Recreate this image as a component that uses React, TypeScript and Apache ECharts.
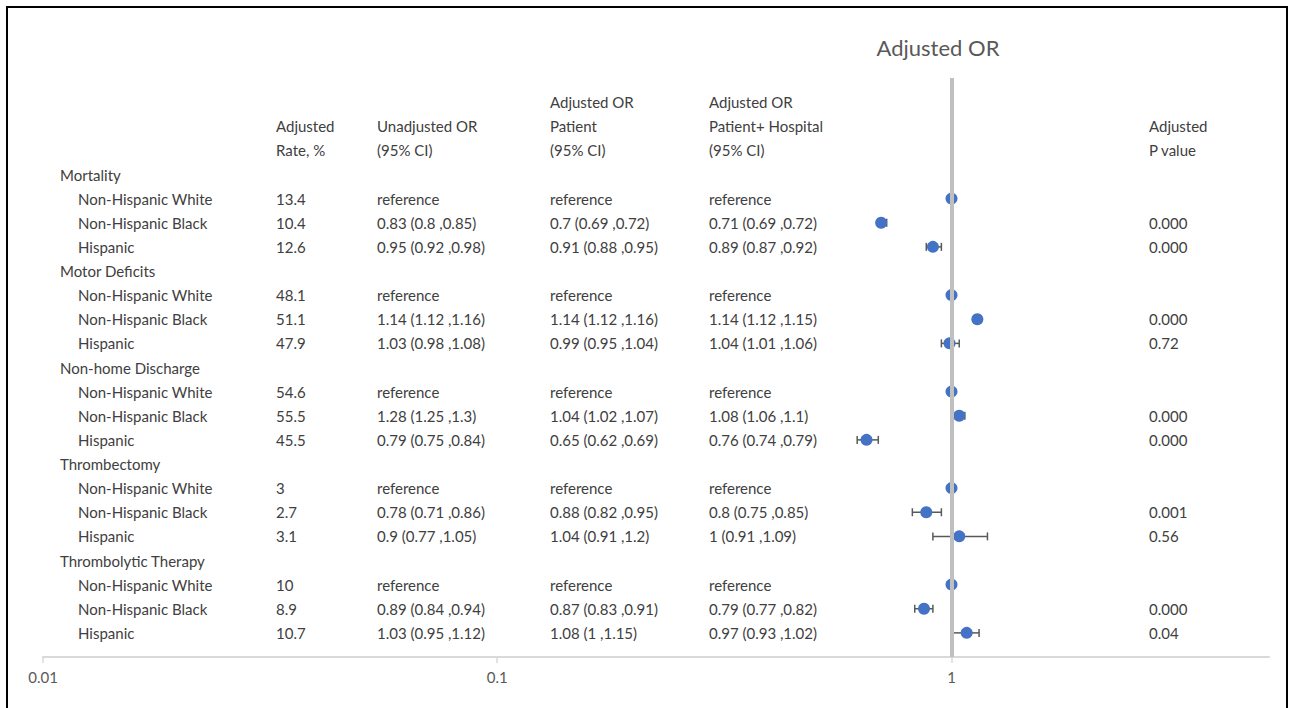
import React, { useEffect, useRef } from "react";
import * as echarts from "echarts";

const groups = ["Mortality", "Motor Deficits", "Non-home Discharge", "Thrombectomy", "Thrombolytic Therapy"];
const subgroups = ["Non-Hispanic White", "Non-Hispanic Black", "Hispanic"];
const adjustedRates = [
  ["13.4", "10.4", "12.6"],
  ["48.1", "51.1", "47.9"],
  ["54.6", "55.5", "45.5"],
  ["3", "2.7", "3.1"],
  ["10", "8.9", "10.7"],
];
// [OR, lower, upper] for Non-Hispanic Black and Hispanic (White = reference)
const unadjustedOR = [
  [[0.83, 0.8, 0.85], [0.95, 0.92, 0.98]],
  [[1.14, 1.12, 1.16], [1.03, 0.98, 1.08]],
  [[1.28, 1.25, 1.3], [0.79, 0.75, 0.84]],
  [[0.78, 0.71, 0.86], [0.9, 0.77, 1.05]],
  [[0.89, 0.84, 0.94], [1.03, 0.95, 1.12]],
];
const patientOR = [
  [[0.7, 0.69, 0.72], [0.91, 0.88, 0.95]],
  [[1.14, 1.12, 1.16], [0.99, 0.95, 1.04]],
  [[1.04, 1.02, 1.07], [0.65, 0.62, 0.69]],
  [[0.88, 0.82, 0.95], [1.04, 0.91, 1.2]],
  [[0.87, 0.83, 0.91], [1.08, 1, 1.15]],
];
const hospitalOR = [
  [[0.71, 0.69, 0.72], [0.89, 0.87, 0.92]],
  [[1.14, 1.12, 1.15], [1.04, 1.01, 1.06]],
  [[1.08, 1.06, 1.1], [0.76, 0.74, 0.79]],
  [[0.8, 0.75, 0.85], [1, 0.91, 1.09]],
  [[0.79, 0.77, 0.82], [0.97, 0.93, 1.02]],
];
const pValues = [
  ["0.000", "0.000"],
  ["0.000", "0.72"],
  ["0.000", "0.000"],
  ["0.001", "0.56"],
  ["0.000", "0.04"],
];
const xTickValues = [0.01, 0.1, 1];

const fmt = (t: number[]) => `${t[0]} (${t[1]} ,${t[2]})`;

export default function App() {
  const ref = useRef<HTMLDivElement>(null);
  useEffect(() => {
    const chart = echarts.init(ref.current!, null, { renderer: "svg" });
    const gridTop = 78;
    const gridBottom = 51;
    const gridLeft = 43;
    const gridRight = 24;
    const H = 708 - gridTop - gridBottom;
    const yMin = -4;
    const yMax = 20;
    const rowY = (r: number) => gridTop + ((r - yMin) / (yMax - yMin)) * H;

    const font = "Lato, 'Liberation Sans', sans-serif";
    const textColor = "#404040";
    const fs = 15;

    const points: any[] = [];
    const bars: any[] = [];
    const texts: any[] = [];
    const addText = (x: number, r: number, s: string) =>
      texts.push({
        type: "text",
        x,
        y: rowY(r),
        silent: true,
        style: { text: s, fill: textColor, font: `${fs}px ${font}`, verticalAlign: "middle", align: "left" },
      });

    groups.forEach((g, gi) => {
      const base = gi * 4;
      addText(60, base, g);
      subgroups.forEach((s, si) => {
        const r = base + 1 + si;
        addText(78, r, s);
        addText(276, r, adjustedRates[gi][si]);
        if (si === 0) {
          addText(377, r, "reference");
          addText(550, r, "reference");
          addText(709, r, "reference");
          points.push([1, r]);
        } else {
          addText(377, r, fmt(unadjustedOR[gi][si - 1]));
          addText(550, r, fmt(patientOR[gi][si - 1]));
          addText(709, r, fmt(hospitalOR[gi][si - 1]));
          addText(1149, r, pValues[gi][si - 1]);
          const p = patientOR[gi][si - 1];
          points.push([p[0], r]);
          bars.push([p[1], p[2], r]);
        }
      });
    });

    // headers
    addText(276, -2, "Adjusted");
    addText(276, -1, "Rate, %");
    addText(377, -2, "Unadjusted OR");
    addText(377, -1, "(95% CI)");
    addText(550, -3, "Adjusted OR");
    addText(550, -2, "Patient");
    addText(550, -1, "(95% CI)");
    addText(709, -3, "Adjusted OR");
    addText(709, -2, "Patient+ Hospital");
    addText(709, -1, "(95% CI)");
    addText(1149, -2, "Adjusted");
    addText(1149, -1, "P value");

    texts.push({
      type: "text",
      x: 938,
      y: 47,
      silent: true,
      style: { text: "Adjusted OR", fill: "#595959", font: `22px ${font}`, verticalAlign: "middle", align: "center" },
    });
    texts.push({
      type: "rect",
      shape: { x: 7, y: 7, width: 1280, height: 720 },
      style: { fill: "none", stroke: "#000", lineWidth: 2 },
      silent: true,
    });

    const option: any = {
      animation: false,
      backgroundColor: "#fff",
      grid: { left: gridLeft, right: gridRight, top: gridTop, bottom: gridBottom, containLabel: false },
      xAxis: {
        type: "log",
        logBase: 10,
        min: 0.01,
        max: 5,
        axisLine: { show: true, onZero: false, lineStyle: { color: "#d9d9d9", width: 2 } },
        axisTick: { show: true, length: 6, lineStyle: { color: "#d9d9d9", width: 1.5 }, customValues: xTickValues },
        axisLabel: {
          customValues: xTickValues,
          color: "#595959",
          fontSize: 15,
          fontFamily: font,
          margin: 12,
          hideOverlap: false,
          formatter: (v: number) => String(+(+v).toPrecision(6)),
        },
        splitLine: { show: false },
        minorTick: { show: false },
        minorSplitLine: { show: false },
      },
      yAxis: {
        type: "value",
        inverse: true,
        min: yMin,
        max: yMax,
        show: false,
        axisLine: { onZero: false },
        splitLine: { show: false },
      },
      series: [
        {
          type: "scatter",
          data: [],
          z: 1,
          markLine: {
            silent: true,
            symbol: "none",
            label: { show: false },
            lineStyle: { color: "#bfbfbf", width: 4, type: "solid" },
            data: [{ xAxis: 1 }],
          },
        },
        {
          type: "custom",
          z: 2,
          data: bars,
          encode: { x: [0, 1], y: 2 },
          renderItem: (params: any, api: any) => {
            const lo = api.coord([api.value(0), api.value(2)]);
            const hi = api.coord([api.value(1), api.value(2)]);
            const h = 4;
            const st = { stroke: "#595959", lineWidth: 1.5 };
            return {
              type: "group",
              children: [
                { type: "line", shape: { x1: lo[0], y1: lo[1], x2: hi[0], y2: hi[1] }, style: st },
                { type: "line", shape: { x1: lo[0], y1: lo[1] - h, x2: lo[0], y2: lo[1] + h }, style: st },
                { type: "line", shape: { x1: hi[0], y1: hi[1] - h, x2: hi[0], y2: hi[1] + h }, style: st },
              ],
            };
          },
        },
        {
          type: "scatter",
          z: 3,
          data: points,
          symbol: "circle",
          symbolSize: 12,
          itemStyle: { color: "#4472c4", opacity: 1 },
        },
      ],
      graphic: texts,
    };
    chart.setOption(option);
    return () => chart.dispose();
  }, []);
  return (
    <div
      ref={ref}
      style={{ position: "absolute", left: 0, top: 0, width: 1293, height: 708, background: "#fff" }}
    />
  );
}
